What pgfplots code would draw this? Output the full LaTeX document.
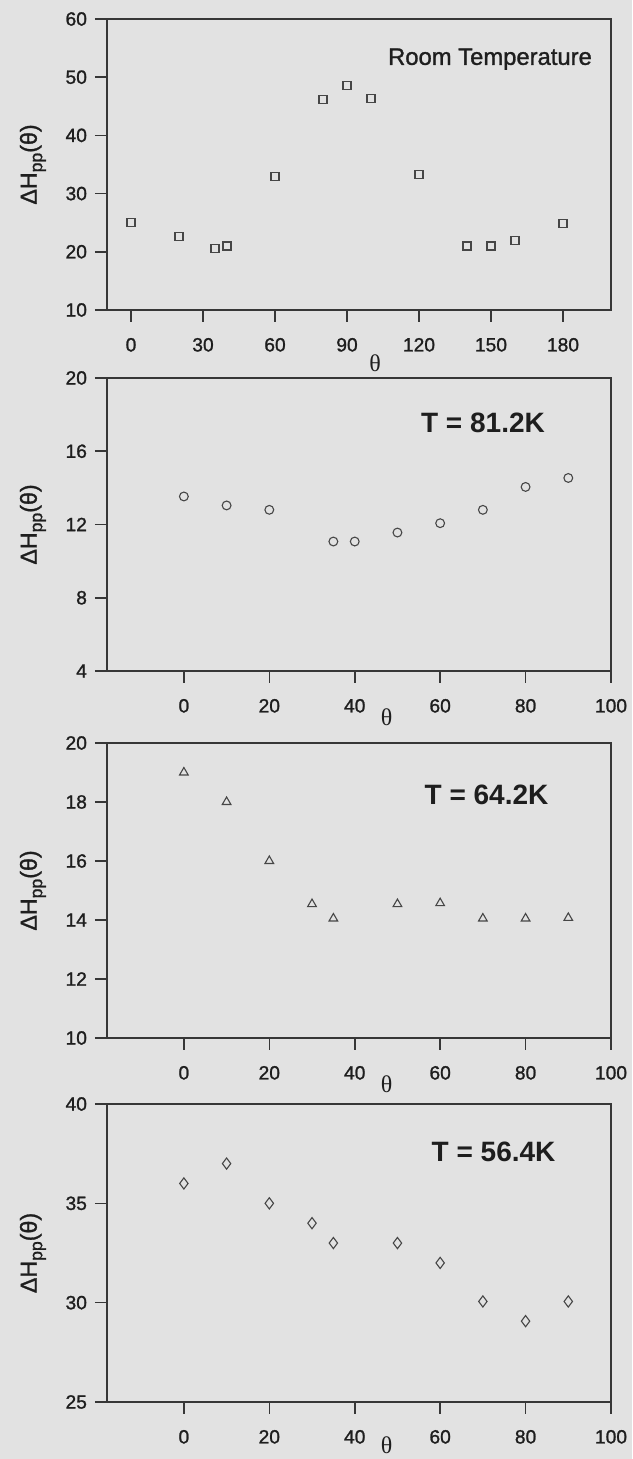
\documentclass[border=0pt]{standalone}
\usepackage{fontspec}
\setmainfont{Liberation Sans}[FakeBold=1.2]
\newfontfamily\seriffont{Liberation Serif}
\newfontfamily\boldsans{Liberation Sans Bold}
\usepackage{pgfplots}
\pgfplotsset{compat=1.18}
\definecolor{bgcol}{RGB}{226,226,226}
\definecolor{axcol}{RGB}{55,55,55}
\definecolor{mkcol}{RGB}{70,70,70}
\definecolor{txtcol}{RGB}{30,30,30}
\pgfplotsset{
  every axis/.append style={
    scale only axis, anchor=south west, width=252pt,
    tick align=outside, tick pos=left, major tick length=6pt,
    axis line style={draw=axcol, line width=0.8pt},
    every tick/.style={draw=axcol, line width=0.8pt},
    /pgf/number format/assume math mode=true,
    tick label style={font=\fontsize{9.6}{10}\selectfont, text=txtcol},
    yticklabel style={xshift=-0.5pt},
    xticklabel style={yshift=-4.5pt},
    ylabel={ΔH\raisebox{-0.45ex}{\fontsize{8.8}{9}\selectfont pp}(θ)},
    ylabel style={at={(axis description cs:-0.147,0.5)}, anchor=center, rotate=0, font=\fontsize{11.6}{12}\selectfont, text=txtcol},
    xlabel={θ},
    clip=false,
  },
}
\begin{document}
\begin{tikzpicture}
\fill[bgcol] (0,0) rectangle (316pt,729.5pt);

% Panel 1: room temperature
\begin{axis}[at={(53.5pt,574.5pt)}, height=145.5pt,
  xmin=-10, xmax=200, ymin=10, ymax=60,
  xtick={0,30,60,90,120,150,180}, ytick={10,20,30,40,50,60},
  xlabel style={at={(axis description cs:0.532,0)}, yshift=-26.5pt, anchor=center, font=\seriffont\fontsize{12}{12}\selectfont, text=txtcol}]
\addplot[only marks, mark=square, mark size=2pt, mark options={draw=mkcol, line width=0.55pt}] coordinates {
(0,25.1) (20,22.6) (35,20.5) (40,21.0) (60,33.0) (80,46.1) (90,48.5) (100,46.4) (120,33.3) (140,21.0) (150,21.0) (160,22.0) (180,24.8)};
\node[anchor=east, font=\fontsize{11.9}{12}\selectfont, text=txtcol] at (rel axis cs:0.976,0.862) {Room Temperature};
\end{axis}

% Panel 2: T = 81.2 K
\begin{axis}[at={(53.5pt,394pt)}, height=146.5pt,
  xmin=-18, xmax=100, ymin=4, ymax=20,
  xtick={0,20,40,60,80,100}, ytick={4,8,12,16,20},
  xlabel style={at={(axis description cs:0.555,0)}, yshift=-23pt, anchor=center, font=\seriffont\fontsize{12}{12}\selectfont, text=txtcol}]
\addplot[only marks, mark=o, mark size=2.2pt, mark options={draw=mkcol, line width=0.55pt}] coordinates {
(0,13.53) (10,13.04) (20,12.8) (35,11.07) (40,11.07) (50,11.56) (60,12.07) (70,12.8) (80,14.05) (90,14.54)};
\node[anchor=center, font=\boldsans\fontsize{14}{14}\selectfont, text=txtcol] at (rel axis cs:0.746,0.848) {T = 81.2K};
\end{axis}

% Panel 3: T = 64.2 K
\begin{axis}[at={(53.5pt,210.5pt)}, height=147.5pt,
  xmin=-18, xmax=100, ymin=10, ymax=20,
  xtick={0,20,40,60,80,100}, ytick={10,12,14,16,18,20},
  xlabel style={at={(axis description cs:0.555,0)}, yshift=-23pt, anchor=center, font=\seriffont\fontsize{12}{12}\selectfont, text=txtcol}]
\addplot[only marks, mark=triangle, mark size=2.5pt, mark options={draw=mkcol, line width=0.55pt}] coordinates {
(0,19.0) (10,18.0) (20,16.0) (30,14.54) (35,14.05) (50,14.54) (60,14.57) (70,14.05) (80,14.05) (90,14.07)};
\node[anchor=center, font=\boldsans\fontsize{14}{14}\selectfont, text=txtcol] at (rel axis cs:0.753,0.823) {T = 64.2K};
\end{axis}

% Panel 4: T = 56.4 K
\begin{axis}[at={(53.5pt,28.5pt)}, height=149pt,
  xmin=-18, xmax=100, ymin=25, ymax=40,
  xtick={0,20,40,60,80,100}, ytick={25,30,35,40},
  xlabel style={at={(axis description cs:0.555,0)}, yshift=-21.5pt, anchor=center, font=\seriffont\fontsize{12}{12}\selectfont, text=txtcol}]
\addplot[only marks, mark=diamond, mark size=2.8pt, mark options={draw=mkcol, line width=0.55pt}] coordinates {
(0,36.0) (10,37.0) (20,35.0) (30,34.0) (35,33.0) (50,33.0) (60,32.0) (70,30.06) (80,29.07) (90,30.06)};
\node[anchor=center, font=\boldsans\fontsize{14}{14}\selectfont, text=txtcol] at (rel axis cs:0.767,0.838) {T = 56.4K};
\end{axis}

\pgfresetboundingbox
\useasboundingbox (0,0) rectangle (316pt,729.5pt);
\end{tikzpicture}
\end{document}
